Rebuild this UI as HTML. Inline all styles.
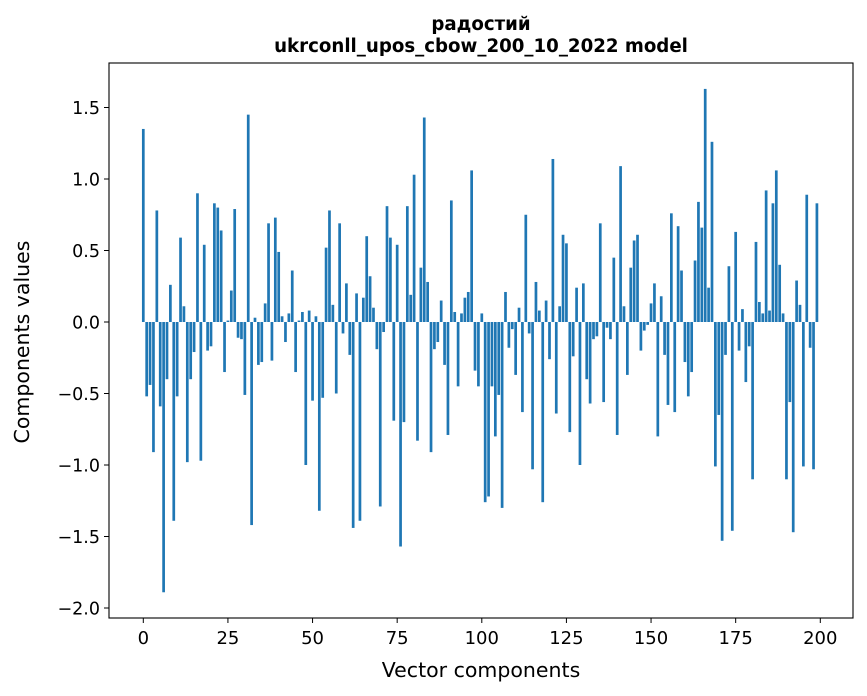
<!DOCTYPE html>
<html><head><meta charset="utf-8"><style>
body{margin:0;background:#fff;}
svg{display:block;font-family:"DejaVu Sans","Liberation Sans",sans-serif;}
</style></head><body>
<svg id="chart" width="867" height="696" viewBox="0 0 867 696" xmlns="http://www.w3.org/2000/svg">
<text x="481" y="30" text-anchor="middle" font-size="18.2" font-weight="bold">радостий</text>
<text x="481" y="52" text-anchor="middle" font-size="18.2" font-weight="bold">ukrconll_upos_cbow_200_10_2022 model</text>
<g id="bars"></g>
<g id="axes"></g>
<rect x="109" y="63" width="744" height="555" fill="none" stroke="#000" stroke-width="1.1"/>
<text x="481" y="677" text-anchor="middle" font-size="20.5">Vector components</text>
<text transform="translate(29,342) rotate(-90)" text-anchor="middle" font-size="20.5">Components values</text>
</svg>
<script>
const values = [1.35,-0.52,-0.44,-0.91,0.78,-0.59,-1.89,-0.40,0.26,-1.39,-0.52,0.59,0.11,-0.98,-0.40,-0.21,0.90,-0.97,0.54,-0.20,
-0.17,0.83,0.80,0.64,-0.35,0.01,0.22,0.79,-0.11,-0.12,-0.51,1.45,-1.42,0.03,-0.30,-0.28,0.13,0.69,-0.27,0.73,
0.49,0.04,-0.14,0.06,0.36,-0.35,0.01,0.07,-1.00,0.08,-0.55,0.04,-1.32,-0.53,0.52,0.78,0.12,-0.50,0.69,-0.08,
0.27,-0.23,-1.44,0.20,-1.39,0.17,0.60,0.32,0.10,-0.19,-1.29,-0.07,0.81,0.59,-0.69,0.54,-1.57,-0.70,0.81,0.19,
1.03,-0.83,0.38,1.43,0.28,-0.91,-0.19,-0.14,0.15,-0.30,-0.79,0.85,0.07,-0.45,0.06,0.17,0.21,1.06,-0.34,-0.45,
0.06,-1.26,-1.22,-0.45,-0.80,-0.51,-1.30,0.21,-0.18,-0.05,-0.37,0.10,-0.63,0.75,-0.08,-1.03,0.28,0.08,-1.26,0.15,
-0.26,1.14,-0.64,0.11,0.61,0.55,-0.77,-0.24,0.24,-1.00,0.27,-0.40,-0.57,-0.12,-0.10,0.69,-0.56,-0.04,-0.12,0.45,
-0.79,1.09,0.11,-0.37,0.38,0.57,0.61,-0.20,-0.06,-0.02,0.13,0.27,-0.80,0.18,-0.23,-0.58,0.76,-0.63,0.67,0.36,
-0.28,-0.52,-0.35,0.43,0.84,0.66,1.63,0.24,1.26,-1.01,-0.65,-1.53,-0.23,0.39,-1.46,0.63,-0.20,0.09,-0.42,-0.17,
-1.10,0.56,0.14,0.06,0.92,0.08,0.83,1.06,0.40,0.06,-1.10,-0.56,-1.47,0.29,0.12,-1.01,0.89,-0.18,-1.03,0.83];
const xTicks = [0,25,50,75,100,125,150,175,200];
const yTicks = [1.5,1.0,0.5,0.0,-0.5,-1.0,-1.5,-2.0];
const NS="http://www.w3.org/2000/svg";
function xs(v){return 143.3+v*3.385;}
function ys(v){return 322-v*143;}
const bars=document.getElementById('bars');
values.forEach((v,i)=>{
  const r=document.createElementNS(NS,'rect');
  
  
  const w=0.8*3.385;
  r.setAttribute('x',xs(i)-w/2);
  r.setAttribute('width',w);
  r.setAttribute('y',Math.min(ys(v),ys(0)));
  r.setAttribute('height',Math.abs(ys(v)-ys(0)));
  r.setAttribute('fill','#1f77b4');
  bars.appendChild(r);
});
const ax=document.getElementById('axes');
xTicks.forEach(t=>{
  const l=document.createElementNS(NS,'line');
  
  
  l.setAttribute('x1',xs(t));l.setAttribute('x2',xs(t));l.setAttribute('y1',618);l.setAttribute('y2',623);
  l.setAttribute('stroke','#000');ax.appendChild(l);
  const tx=document.createElementNS(NS,'text');
  
  
  tx.setAttribute('x',xs(t));tx.setAttribute('y',644);tx.setAttribute('text-anchor','middle');tx.setAttribute('font-size','18');
  tx.textContent=t;ax.appendChild(tx);
});
yTicks.forEach(t=>{
  const l=document.createElementNS(NS,'line');
  
  
  l.setAttribute('x1',104);l.setAttribute('x2',109);l.setAttribute('y1',ys(t));l.setAttribute('y2',ys(t));
  l.setAttribute('stroke','#000');ax.appendChild(l);
  const tx=document.createElementNS(NS,'text');
  
  
  tx.setAttribute('x',100);tx.setAttribute('y',ys(t)+6.5);tx.setAttribute('text-anchor','end');tx.setAttribute('font-size','17.5');
  tx.textContent=(t<0?'\u2212':'')+Math.abs(t).toFixed(1);ax.appendChild(tx);
});
</script>
</body></html>
